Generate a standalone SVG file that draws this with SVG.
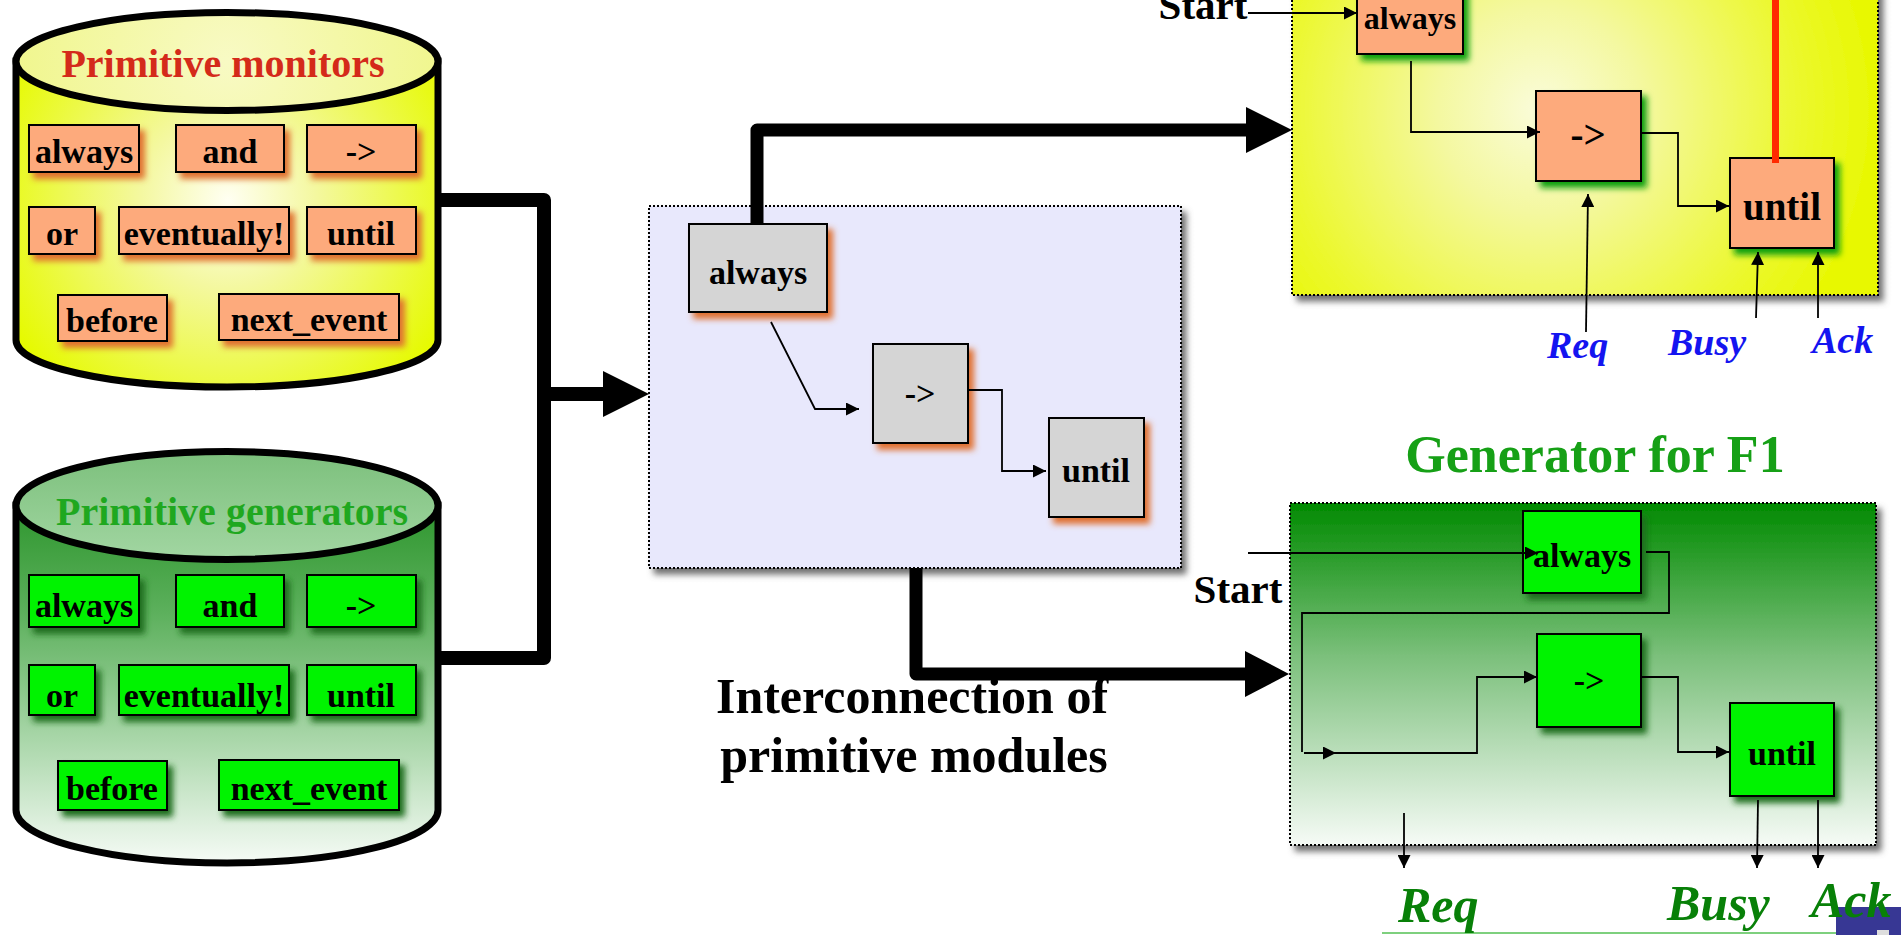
<svg xmlns="http://www.w3.org/2000/svg" width="1901" height="935" viewBox="0 0 1901 935">
<style>
.t{font-family:"Liberation Serif","Times New Roman",serif;font-weight:bold;text-anchor:middle;fill:#000}
.lbl{font-size:34px}
.bx{stroke:#000;stroke-width:2}
.mon{fill:#FDAA7B}
.gen{fill:#00F300}
.gray{fill:#D5D5D5}
.cont{stroke:#000;stroke-width:2;stroke-dasharray:2 2}
.thin{fill:none;stroke:#000;stroke-width:1.8}
.thick{fill:none;stroke:#000;stroke-linejoin:round}
.it{font-family:"Liberation Serif","Times New Roman",serif;font-weight:bold;font-style:italic}
</style>
<defs>
<filter id="shOr" x="-20%" y="-20%" width="150%" height="150%">
<feGaussianBlur in="SourceAlpha" stdDeviation="3"/><feOffset dx="5" dy="6" result="b"/>
<feFlood flood-color="#E07030"/><feComposite in2="b" operator="in"/>
<feMerge><feMergeNode/><feMergeNode in="SourceGraphic"/></feMerge>
</filter>
<filter id="shDg" x="-20%" y="-20%" width="150%" height="150%">
<feGaussianBlur in="SourceAlpha" stdDeviation="3"/><feOffset dx="5" dy="6" result="b"/>
<feFlood flood-color="#1E6E1E"/><feComposite in2="b" operator="in"/>
<feMerge><feMergeNode/><feMergeNode in="SourceGraphic"/></feMerge>
</filter>
<filter id="shBg" x="-20%" y="-20%" width="150%" height="150%">
<feGaussianBlur in="SourceAlpha" stdDeviation="3"/><feOffset dx="5" dy="6" result="b"/>
<feFlood flood-color="#10A010"/><feComposite in2="b" operator="in"/>
<feMerge><feMergeNode/><feMergeNode in="SourceGraphic"/></feMerge>
</filter>
<filter id="shGr" x="-5%" y="-5%" width="112%" height="112%">
<feGaussianBlur in="SourceAlpha" stdDeviation="3"/><feOffset dx="5" dy="6" result="b"/>
<feFlood flood-color="#707070"/><feComposite in2="b" operator="in"/>
<feMerge><feMergeNode/><feMergeNode in="SourceGraphic"/></feMerge>
</filter>
<radialGradient id="gMonBody" gradientUnits="userSpaceOnUse" cx="228" cy="200" r="250">
<stop offset="0" stop-color="#FFFFF2"/><stop offset="0.35" stop-color="#F4F8A0"/><stop offset="1" stop-color="#E6FA00"/>
</radialGradient>
<radialGradient id="gMonTop" gradientUnits="userSpaceOnUse" cx="228" cy="61" r="220">
<stop offset="0" stop-color="#F8FAC4"/><stop offset="1" stop-color="#F0F68C"/>
</radialGradient>
<linearGradient id="gGenBody" x1="0" y1="0" x2="0" y2="1">
<stop offset="0" stop-color="#2E962E"/><stop offset="0.3" stop-color="#5CB05C"/><stop offset="0.65" stop-color="#A8D6A8"/><stop offset="1" stop-color="#F6FBF6"/>
</linearGradient>
<linearGradient id="gGenTop" x1="0" y1="0" x2="0" y2="1">
<stop offset="0" stop-color="#7CC07C"/><stop offset="1" stop-color="#A2D6A2"/>
</linearGradient>
<radialGradient id="gYel" gradientUnits="userSpaceOnUse" cx="1540" cy="110" r="340">
<stop offset="0" stop-color="#FAFCDA"/><stop offset="0.3" stop-color="#F4F8A0"/><stop offset="0.75" stop-color="#ECF830"/><stop offset="1" stop-color="#E8F800"/>
</radialGradient>
<linearGradient id="gGrn" x1="0" y1="0" x2="0" y2="1">
<stop offset="0" stop-color="#008A00"/><stop offset="0.45" stop-color="#7CC07C"/><stop offset="1" stop-color="#F6FBF6"/>
</linearGradient>
<marker id="arr" viewBox="0 0 10 10" refX="10" refY="5" markerWidth="13" markerHeight="13" markerUnits="userSpaceOnUse" orient="auto">
<path d="M0,0 L10,5 L0,10 z" fill="#000"/>
</marker>
</defs>

<g id="monitors">
<path d="M16,61 L16,340 A211,47 0 0 0 438,340 L438,61 Z" fill="url(#gMonBody)" stroke="#000" stroke-width="7"/>
<ellipse cx="227" cy="61.5" rx="211" ry="49" fill="url(#gMonTop)" stroke="#000" stroke-width="7"/>
<text class="t" x="223" y="77" font-size="40" style="fill:#D42A1A">Primitive monitors</text>
<g filter="url(#shOr)">
<rect class="bx mon" x="29" y="125" width="110" height="47"/>
<rect class="bx mon" x="176" y="125" width="108" height="47"/>
<rect class="bx mon" x="307" y="125" width="109" height="47"/>
<rect class="bx mon" x="29" y="207" width="66" height="47"/>
<rect class="bx mon" x="119" y="207" width="170" height="47"/>
<rect class="bx mon" x="307" y="207" width="109" height="47"/>
<rect class="bx mon" x="58" y="295" width="109" height="46"/>
<rect class="bx mon" x="219" y="294" width="180" height="46"/>
</g>
<text class="t lbl" x="84" y="163">always</text>
<text class="t lbl" x="230" y="163">and</text>
<text class="t lbl" x="361" y="163">-&gt;</text>
<text class="t lbl" x="62" y="245">or</text>
<text class="t lbl" x="204" y="245">eventually!</text>
<text class="t lbl" x="361" y="245">until</text>
<text class="t lbl" x="112" y="332">before</text>
<text class="t lbl" x="309" y="331">next_event</text>
</g>

<g id="generators">
<path d="M16,505 L16,810 A211,53 0 0 0 438,810 L438,505 Z" fill="url(#gGenBody)" stroke="#000" stroke-width="7"/>
<ellipse cx="227" cy="505.5" rx="211" ry="54" fill="url(#gGenTop)" stroke="#000" stroke-width="7"/>
<text class="t" x="232" y="525" font-size="40" style="fill:#1FA81F">Primitive generators</text>
<g filter="url(#shDg)">
<rect class="bx gen" x="29" y="575" width="110" height="52"/>
<rect class="bx gen" x="176" y="575" width="108" height="52"/>
<rect class="bx gen" x="307" y="575" width="109" height="52"/>
<rect class="bx gen" x="29" y="665" width="66" height="50"/>
<rect class="bx gen" x="119" y="665" width="170" height="50"/>
<rect class="bx gen" x="307" y="665" width="109" height="50"/>
<rect class="bx gen" x="58" y="761" width="109" height="49"/>
<rect class="bx gen" x="219" y="760" width="180" height="50"/>
</g>
<text class="t lbl" x="84" y="617">always</text>
<text class="t lbl" x="230" y="617">and</text>
<text class="t lbl" x="361" y="617">-&gt;</text>
<text class="t lbl" x="62" y="707">or</text>
<text class="t lbl" x="204" y="707">eventually!</text>
<text class="t lbl" x="361" y="707">until</text>
<text class="t lbl" x="112" y="800">before</text>
<text class="t lbl" x="309" y="800">next_event</text>
</g>

<g id="interconnection">
<rect class="cont" x="649" y="206" width="532" height="362" fill="#E8E8FC" filter="url(#shGr)"/>
<g filter="url(#shOr)">
<rect class="bx gray" x="689" y="224" width="138" height="88"/>
<rect class="bx gray" x="873" y="344" width="95" height="99"/>
<rect class="bx gray" x="1049" y="418" width="95" height="99"/>
</g>
<text class="t lbl" x="758" y="284">always</text>
<text class="t lbl" x="920" y="405">-&gt;</text>
<text class="t lbl" x="1096" y="482">until</text>
<text class="t" x="912" y="713" font-size="50">Interconnection of</text>
<text class="t" x="914" y="772" font-size="50">primitive modules</text>
</g>

<g id="monitor-f1">
<rect class="cont" x="1292" y="-20" width="586" height="315" fill="url(#gYel)" filter="url(#shGr)"/>
<g filter="url(#shBg)">
<rect class="bx mon" x="1357" y="-36" width="106" height="90"/>
<rect class="bx mon" x="1536" y="91" width="105" height="90"/>
<rect class="bx mon" x="1730" y="158" width="104" height="90"/>
</g>
<text class="t" x="1410" y="29" font-size="32">always</text>
<text class="t" x="1588" y="148" font-size="39">-&gt;</text>
<text class="t" x="1782" y="220" font-size="39">until</text>
<text class="t" x="1203" y="19" font-size="41">Start</text>
<text class="it" x="1547" y="358" font-size="38" fill="#1414F0">Req</text>
<text class="it" x="1668" y="355" font-size="38" fill="#1414F0">Busy</text>
<text class="it" x="1812" y="353" font-size="38" fill="#1414F0">Ack</text>
</g>

<g id="generator-f1">
<text class="t" x="1595" y="472" font-size="52" style="fill:#16A016">Generator for F1</text>
<rect class="cont" x="1290" y="503" width="586" height="342" fill="url(#gGrn)" filter="url(#shGr)"/>
<g filter="url(#shDg)">
<rect class="bx gen" x="1523" y="511" width="118" height="82"/>
<rect class="bx gen" x="1537" y="634" width="104" height="93"/>
<rect class="bx gen" x="1730" y="703" width="104" height="93"/>
</g>
<text class="t lbl" x="1582" y="567">always</text>
<text class="t lbl" x="1589" y="692">-&gt;</text>
<text class="t lbl" x="1782" y="765">until</text>
<text class="t" x="1238" y="603" font-size="41">Start</text>
</g>

<g id="connectors">
<path class="thick" stroke-width="14" d="M438,200 L544,200 L544,658 L438,658"/>
<path class="thick" stroke-width="14" d="M544,394 L606,394"/>
<polygon points="603,371 649,394 603,417" fill="#000"/>
<path class="thick" stroke-width="13" d="M757,224 L757,130 L1250,130"/>
<polygon points="1246,107 1292,130 1246,153" fill="#000"/>
<path class="thick" stroke-width="13" d="M916,568 L916,674 L1250,674"/>
<polygon points="1245,651 1289,674 1245,697" fill="#000"/>

<polyline class="thin" points="771,322 815,409 859,409" marker-end="url(#arr)"/>
<polyline class="thin" points="968,390 1002,390 1002,471 1046,471" marker-end="url(#arr)"/>

<line class="thin" x1="1248" y1="13" x2="1357" y2="13" marker-end="url(#arr)"/>
<polyline class="thin" points="1411,61 1411,132 1540,132" marker-end="url(#arr)"/>
<polyline class="thin" points="1642,133 1678,133 1678,206 1729,206" marker-end="url(#arr)"/>
<line class="thin" x1="1586" y1="332" x2="1588" y2="194" marker-end="url(#arr)"/>
<line class="thin" x1="1756" y1="318" x2="1758" y2="252" marker-end="url(#arr)"/>
<line class="thin" x1="1818" y1="318" x2="1818" y2="252" marker-end="url(#arr)"/>
<line x1="1775.5" y1="0" x2="1775.5" y2="163" stroke="#FF2A00" stroke-width="7"/>

<line class="thin" x1="1248" y1="553" x2="1538" y2="553" marker-end="url(#arr)"/>
<polyline class="thin" points="1646,552 1669,552 1669,613 1302,613 1302,752"/>
<line class="thin" x1="1304" y1="753" x2="1336" y2="753" marker-end="url(#arr)"/>
<polyline class="thin" points="1304,753 1477,753 1477,677 1537,677" marker-end="url(#arr)"/>
<polyline class="thin" points="1641,677 1678,677 1678,752 1729,752" marker-end="url(#arr)"/>
<line class="thin" x1="1404" y1="813" x2="1404" y2="868" marker-end="url(#arr)"/>
<line class="thin" x1="1758" y1="800" x2="1757" y2="868" marker-end="url(#arr)"/>
<line class="thin" x1="1818" y1="800" x2="1818" y2="868" marker-end="url(#arr)"/>
</g>

<g id="footer">
<line x1="1382" y1="933" x2="1836" y2="933" stroke="#7ED07E" stroke-width="2"/>
<rect x="1836" y="907" width="65" height="28" fill="#373794"/>
<rect x="1877" y="930" width="12" height="5" fill="#DDDDDD"/>
<text class="it" x="1398" y="922" font-size="50" fill="#088008">Req</text>
<text class="it" x="1667" y="920" font-size="50" fill="#088008">Busy</text>
<text class="it" x="1811" y="917" font-size="50" fill="#088008">Ack</text>
</g>
</svg>
